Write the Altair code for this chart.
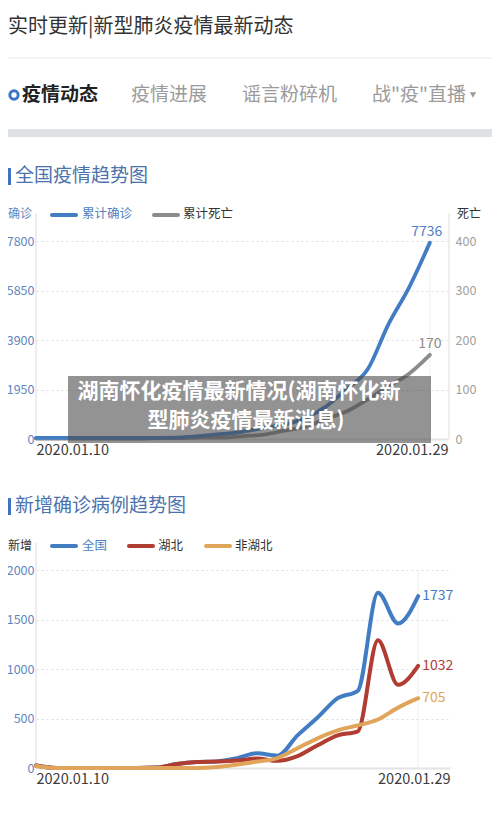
import altair as alt
import pandas as pd

FONT = "Noto Sans CJK SC"

# ---------------- data ----------------
dates = ["2020-01-10T00:00", "2020-01-11T00:00", "2020-01-12T00:00", "2020-01-13T00:00",
         "2020-01-14T00:00", "2020-01-15T00:00", "2020-01-16T00:00", "2020-01-17T00:00",
         "2020-01-18T00:00", "2020-01-19T00:00", "2020-01-20T00:00", "2020-01-21T00:00",
         "2020-01-22T00:00", "2020-01-23T00:00", "2020-01-24T00:00", "2020-01-25T00:00",
         "2020-01-26T00:00", "2020-01-27T00:00", "2020-01-28T00:00", "2020-01-29T00:00"]
cum_confirmed = [41, 41, 41, 41, 41, 41, 45, 62, 121, 198, 291, 440, 571, 830, 1287, 1975, 2744, 4515, 5974, 7736]
cum_deaths = [1, 1, 1, 1, 1, 1, 2, 2, 3, 3, 6, 9, 17, 25, 41, 56, 80, 106, 132, 170]
new_all = [25, 0, 0, 0, 0, 0, 4, 40, 60, 66, 100, 149, 125, 330, 510, 705, 780, 1771, 1459, 1737]
new_hubei = [25, 0, 0, 0, 0, 0, 4, 40, 60, 65, 75, 95, 72, 120, 230, 330, 371, 1291, 840, 1032]
new_other = [20, 0, 0, 0, 0, 0, 0, 0, 0, 10, 35, 65, 100, 200, 300, 380, 430, 490, 610, 705]
series_names = ["全国", "湖北", "非湖北"]
series_colors = ["#427dc4", "#b03c32", "#e0a55a"]

header_title = "实时更新|新型肺炎疫情最新动态"
tabs = ["疫情动态", "疫情进展", "谣言粉碎机", "战\"疫\"直播"]
chart1_title = "全国疫情趋势图"
chart2_title = "新增确诊病例趋势图"
legend1 = ["累计确诊", "累计死亡"]
axis1_titles = ["确诊", "死亡"]
axis2_title = "新增"
overlay_lines = ["湖南怀化疫情最新情况(湖南怀化新", "型肺炎疫情最新消息)"]
y1_ticks = [0, 1950, 3900, 5850, 7800]
y1r_ticks = [0, 100, 200, 300, 400]
y2_ticks = [0, 500, 1000, 1500, 2000]

BLUE, GRAY, RED, ORANGE = "#427dc4", "#8c8c8c", "#b03c32", "#e0a55a"

df1 = pd.DataFrame({"date": dates, "confirmed": cum_confirmed, "deaths": cum_deaths})
rows = []
for name, vals in zip(series_names, [new_all, new_hubei, new_other]):
    for d, v in zip(dates, vals):
        rows.append({"date": d, "series": name, "value": v})
df2 = pd.DataFrame(rows)
df1_last = df1.tail(1)
df2_last = pd.DataFrame({"date": [dates[-1]] * 3, "series": series_names,
                         "value": [new_all[-1], new_hubei[-1], new_other[-1]]})

first_label = dates[0][:10].replace("-", ".")
last_label = dates[-1][:10].replace("-", ".")

# ---------------- layout helpers (screen px -> view px) ----------------
W, H = 484, 804


def vx(p):
    return p - 8


def vy(p):
    return p - 8


def one():
    return pd.DataFrame({"k": [0]})


def txt(s, x, y, size, color, weight="normal", align="left"):
    return alt.Chart(pd.DataFrame({"t": [s]})).mark_text(
        font=FONT, fontSize=size, color=color, fontWeight=weight, align=align, baseline="middle"
    ).encode(x=alt.value(vx(x)), y=alt.value(vy(y)), text="t:N")


def hline(x1, x2, y, color, width, cap="butt"):
    return alt.Chart(one()).mark_rule(color=color, strokeWidth=width, strokeCap=cap).encode(
        x=alt.value(vx(x1)), x2=alt.value(vx(x2)), y=alt.value(vy(y)))


def vline(x, y1, y2, color, width):
    return alt.Chart(one()).mark_rule(color=color, strokeWidth=width).encode(
        x=alt.value(vx(x)), y=alt.value(vy(y1)), y2=alt.value(vy(y2)))


def box(x1, x2, y1, y2, color, opacity=1.0):
    return alt.Chart(one()).mark_rect(color=color, opacity=opacity).encode(
        x=alt.value(vx(x1)), x2=alt.value(vx(x2)), y=alt.value(vy(y1)), y2=alt.value(vy(y2)))


# ---------------- scales ----------------
d0 = alt.DateTime(year=2020, month=1, date=10)
d1_end = alt.DateTime(year=2020, month=1, date=29, hours=21)
d2_end = alt.DateTime(year=2020, month=1, date=30, hours=14)

x1 = alt.Scale(domain=[d0, d1_end], range=[vx(36), vx(448)], nice=False)
y1 = alt.Scale(domain=[0, 7800], range=[vy(439), vy(241)], nice=False)
y1r = alt.Scale(domain=[0, 400], range=[vy(439), vy(241)], nice=False)
x2 = alt.Scale(domain=[d0, d2_end], range=[vx(36), vx(450)], nice=False)
y2 = alt.Scale(domain=[0, 2000], range=[vy(768), vy(570)], nice=False)

label_expr = f"datum.index == 0 ? '{first_label}' : '{last_label}'"
xaxis_common = dict(orient="bottom", labelExpr=label_expr, labelFlush=True, labelFontSize=14.5,
                    labelColor="#3c3c3c", labelFont=FONT, labelPadding=4, ticks=False,
                    grid=False, domain=True, domainColor="#e4e4e4", domainWidth=2,
                    title=None, labelOverlap=False)
ax_x1 = alt.Axis(offset=vy(439) - H, values=[d0, d1_end], **xaxis_common)
ax_x2 = alt.Axis(offset=vy(768) - H, values=[d0, d2_end], **xaxis_common)

yaxis_common = dict(domain=False, ticks=False, labelFont=FONT, labelFontSize=12.5,
                    title=None, labelOverlap=False, format="d")
ax_y1 = alt.Axis(orient="left", offset=-vx(36), values=y1_ticks, grid=True,
                 gridColor="#dcdcdc", gridDash=[2, 3], gridWidth=1,
                 labelColor="#5f86bd", labelPadding=2, **yaxis_common)
ax_y1r = alt.Axis(orient="right", offset=vx(448) - W, values=y1r_ticks, grid=False,
                  labelColor="#a0a0a0", labelPadding=7, **yaxis_common)
ax_y2 = alt.Axis(orient="left", offset=-vx(36), values=y2_ticks, grid=True,
                 gridColor="#dcdcdc", gridDash=[2, 3], gridWidth=1,
                 labelColor="#5f86bd", labelPadding=2, **yaxis_common)

# ---------------- header ----------------
layers = []
layers.append(txt(header_title, 8, 27, 20, "#333333"))
layers.append(hline(8, 492, 58, "#e8e8e8", 1))
layers.append(alt.Chart(one()).mark_point(shape="circle", filled=False, color="#3d74c4",
                                          strokeWidth=3, size=70, opacity=1).encode(
    x=alt.value(vx(14)), y=alt.value(vy(95))))
layers.append(txt(tabs[0], 22, 95, 19, "#222222", weight="bold"))
layers.append(txt(tabs[1], 131, 95, 19, "#9b9b9b"))
layers.append(txt(tabs[2], 242, 95, 19, "#9b9b9b"))
layers.append(txt(tabs[3], 372, 95, 19, "#9b9b9b"))
layers.append(alt.Chart(one()).mark_point(shape="triangle-down", filled=True, color="#9b9b9b",
                                          size=40, opacity=1).encode(
    x=alt.value(vx(473)), y=alt.value(vy(95))))
layers.append(box(8, 492, 129, 137, "#dde1e4"))

# ---------------- chart 1 ----------------
layers.append(box(8, 11, 168, 185, "#3f73c0"))
layers.append(txt(chart1_title, 15, 176, 19, "#4c72ad"))
layers.append(txt(axis1_titles[0], 8, 214, 12, "#5f86bd"))
layers.append(hline(52, 76, 215, BLUE, 4, cap="round"))
layers.append(txt(legend1[0], 82, 214, 12.5, "#4f7fc0"))
layers.append(hline(154, 178, 215, GRAY, 4, cap="round"))
layers.append(txt(legend1[1], 183, 214, 12.5, "#333333"))
layers.append(txt(axis1_titles[1], 457, 214, 12, "#333333"))
layers.append(vline(36, 213, 439, "#e8e8e8", 1.5))
layers.append(vline(449, 213, 439, "#e8e8e8", 1.5))

layers.append(alt.Chart(df1_last).mark_rule(color="#eeeeee", strokeWidth=1).encode(
    x=alt.X("date:T", scale=x1, axis=None), y=alt.value(vy(270)), y2=alt.value(vy(439))))

layers.append(alt.Chart(df1).mark_line(color=GRAY, strokeWidth=3.8, interpolate="monotone",
                                       strokeCap="round").encode(
    x=alt.X("date:T", scale=x1, axis=None),
    y=alt.Y("deaths:Q", scale=y1r, axis=ax_y1r)))
layers.append(alt.Chart(df1).mark_line(color=BLUE, strokeWidth=3.8, interpolate="monotone",
                                       strokeCap="round").encode(
    x=alt.X("date:T", scale=x1, axis=ax_x1),
    y=alt.Y("confirmed:Q", scale=y1, axis=ax_y1)))
layers.append(alt.Chart(df1_last).mark_text(font=FONT, fontSize=14, color="#4f7fc0",
                                            dx=-3, dy=-11, align="center", baseline="middle").encode(
    x=alt.X("date:T", scale=x1, axis=None),
    y=alt.Y("confirmed:Q", scale=y1, axis=None),
    text=alt.Text("confirmed:Q", format="d")))
layers.append(alt.Chart(df1_last).mark_text(font=FONT, fontSize=14, color="#8c8c8c",
                                            dx=0, dy=-11, align="center", baseline="middle").encode(
    x=alt.X("date:T", scale=x1, axis=None),
    y=alt.Y("deaths:Q", scale=y1r, axis=None),
    text=alt.Text("deaths:Q", format="d")))

# overlay caption box
layers.append(box(68, 431, 376, 443, "#4b4b4b", 0.6))
layers.append(txt(overlay_lines[0], 239, 392, 21, "#ffffff", weight="bold", align="center"))
layers.append(txt(overlay_lines[1], 246, 421, 21, "#ffffff", weight="bold", align="center"))

# ---------------- chart 2 ----------------
layers.append(box(8, 11, 498, 515, "#3f73c0"))
layers.append(txt(chart2_title, 15, 506, 19, "#4c72ad"))
layers.append(txt(axis2_title, 8, 546, 12, "#333333"))
layers.append(hline(52, 76, 546, series_colors[0], 4, cap="round"))
layers.append(txt(series_names[0], 82, 546, 12.5, "#4f7fc0"))
layers.append(hline(129, 153, 546, series_colors[1], 4, cap="round"))
layers.append(txt(series_names[1], 158, 546, 12.5, "#333333"))
layers.append(hline(206, 230, 546, series_colors[2], 4, cap="round"))
layers.append(txt(series_names[2], 235, 546, 12.5, "#333333"))
layers.append(vline(36, 543, 768, "#e8e8e8", 1.5))

layers.append(alt.Chart(df2_last.head(1)).mark_rule(color="#eeeeee", strokeWidth=1).encode(
    x=alt.X("date:T", scale=x2, axis=None), y=alt.value(vy(570)), y2=alt.value(vy(768))))

color_scale = alt.Scale(domain=series_names, range=series_colors)
layers.append(alt.Chart(df2).mark_line(strokeWidth=4, interpolate="monotone",
                                       strokeCap="round").encode(
    x=alt.X("date:T", scale=x2, axis=ax_x2),
    y=alt.Y("value:Q", scale=y2, axis=ax_y2),
    color=alt.Color("series:N", scale=color_scale, legend=None),
    order=alt.Order("date:T")))
layers.append(alt.Chart(df2_last).mark_text(font=FONT, fontSize=14, dx=4, align="left",
                                            baseline="middle").encode(
    x=alt.X("date:T", scale=x2, axis=None),
    y=alt.Y("value:Q", scale=y2, axis=None),
    color=alt.Color("series:N", scale=color_scale, legend=None),
    text=alt.Text("value:Q", format="d")))

chart = alt.layer(*layers).resolve_scale(x="independent", y="independent").properties(
    width=W, height=H, autosize=alt.AutoSizeParams(type="none"), padding=0,
    background="#ffffff"
).configure_view(stroke=None)

chart.save("out.html", embed_options={"renderer": "svg", "actions": False})
